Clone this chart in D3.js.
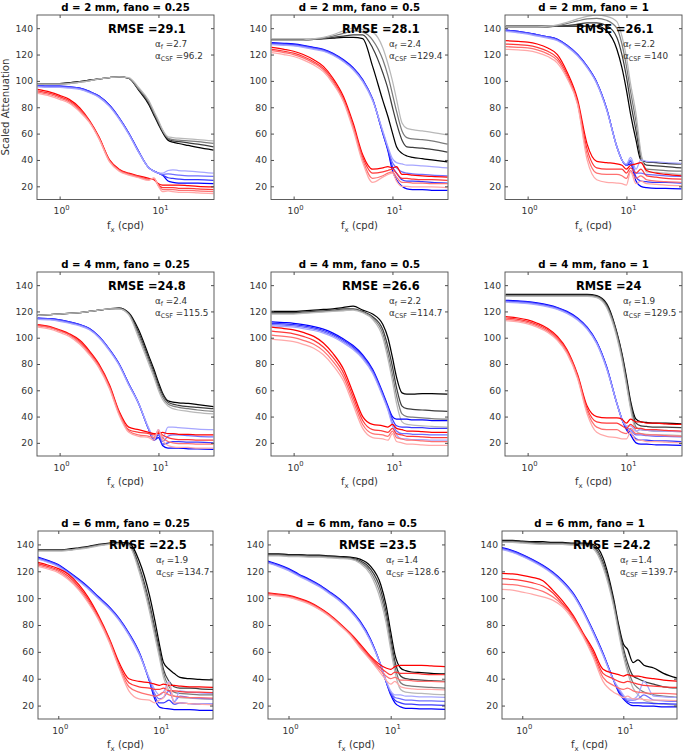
<!DOCTYPE html>
<html><head><meta charset="utf-8">
<script src="https://cdn.jsdelivr.net/npm/d3@7"></script>
<style>body{margin:0;background:#fff}svg{display:block}</style>
</head><body>
<svg id="c" width="688" height="756"></svg>
<script>
// ---------- data ----------
const fx = [0.6,0.8,1,1.25,1.6,2,2.5,3.2,4,5,6.3,8,9,10,11,12.5,14,16,20,25,36];
const dVals = [2,4,6];
const fanoVals = [0.25,0.5,1];
const rmse = ["29.1","28.1","26.1","24.8","26.6","24","22.5","23.5","24.2"];
const alphaF = ["2.7","2.4","2.2","2.4","2.2","1.9","1.9","1.4","1.4"];
const alphaCSF = ["96.2","129.4","140","115.5","114.7","129.5","134.7","128.6","139.7"];
const yTicks = [20,40,60,80,100,120,140];
const xTicks = [1,10];

// each family: curves from darkest to lightest shade
const p1Black = [
 [98,98,98,98.5,99.5,100.5,101.5,102.5,103,102,93,82,74,67,61,55,53.5,52.5,51,49.5,47.5],
 [98,98,98,98.5,99.5,100.5,101.5,102.5,103,102,93.5,83,75,68,62,56,54.5,54,53,52,50],
 [97.5,97.5,97.5,98,99,100,101.5,102.5,103,102,94,84,76,69,62.5,56.5,55.5,55,54.5,54,52.5],
 [97.5,97.5,97.5,98,99,100,101.5,102.5,103,102.5,95,85,77,70,63,57.5,57,56.5,56,55.5,54.5]];
const p1Blue = [
 [96.5,96,96,95.5,94.5,92,88.5,81.5,72,60.5,46.5,34,31.5,30,28.5,24,23,22.5,22.5,22.5,22],
 [96.5,96,96,95.5,94.5,92,88.5,81.5,72,60.5,46.5,34,31.5,30,28.5,26.5,26,25.5,25,25,24.5],
 [96,95.5,95.5,95,94,91.5,88,81,71.5,60,46,34,31.5,30,29,29.5,29,28.5,28,28,27.5],
 [95.5,95,95,94.5,93.5,91,87.5,80.5,71,59.5,46,34,31.5,30,30,32,32.5,32,31.5,31,30]];
const p1Red = [
 [93.5,91.5,89,86,79.5,70,57.5,40,33,30,28,26,25,22,21,21,21,21,20.5,20,19.5],
 [92.5,90.5,88,85,78.5,69.5,57,39.5,32.5,29.5,27.5,25.5,25.5,21,19,19,19,18.5,18.5,18,17.5],
 [91.5,89.5,87,84,77.5,69,56.5,39,32,29,27,25,26,20.5,17.5,17.5,17.5,17,17,16.5,16],
 [90.5,88.5,86,83,76.5,68.5,56,38.5,31.5,28.5,26.5,24.5,26.5,20,16,16.5,16,15.5,15.5,15,14.5]];

const p2Black = [
 [131.5,131.5,131.5,131.5,131.5,132,132.5,133,133,132,111,85,73,60.5,50,45,43,42,41,40,38.5],
 [131,131,131,131,131.5,132,133,134,135,135,125,106,94,80,68,55,50,49.5,49,48,46],
 [131,131,131,131,131.5,132.5,134,136,138,137,131,116,104,90,77,62,57,56,55.5,54.5,52],
 [131,131,131,131,132,133,135,138,140,139,137,125,113,100,86,68,64,63,62,61,59]];
const p2Blue = [
 [129,128.5,128,127,125.5,124,121,116,110,101,86,60,47,32,25,20,18,17.5,17.5,17,17],
 [128.5,128,127.5,126.5,125,123.5,120.5,115.5,109.5,100.5,86,60,48,35,30,25,24,24,23.5,23,22.5],
 [128,127.5,127,126,124.5,123,120,115,109,100,86,61,49,38,34,31,30,29.5,29,28.5,28],
 [127.5,127,126.5,125.5,124,122.5,119.5,114.5,108.5,99.5,85,62,50,41,38,37,36,36,35.5,35,34]];
const p2Red = [
 [125.5,124,122.5,120,116,111,102,88,68,44,33,34,35,34,35,29,29,28.5,28,27.5,27],
 [124,122.5,121,118.5,114.5,109.5,100.5,86,66,42,30,31,32,33,30,26,26,25.5,25,25,24.5],
 [123,121.5,120,117.5,113.5,108.5,99.5,85,65,40,26,28,30,31,27,23,23,22.5,22.5,22,22],
 [121.5,120,118.5,116,112,107,98,84,63,38,23,27,29,30,24,20,20,19.5,19.5,19.5,19]];

const p3Black = [
 [141.5,141.5,141.5,141.5,141.5,141.5,141.5,141.5,141.5,141.5,138,124,110,93,75,55,40,38.5,38,37.5,37],
 [141,141,141,141,141,141.5,142,143,144,144,142,133,120,103,84,62,42,36,35.5,35,34],
 [141,141,141,141,141,142,143.5,145.5,147,147.5,146,140,128,111,92,69,44,33,32.5,32,31.5],
 [141,141,141,141,141.5,142.5,144.5,147,149,150,149,145,134,118,98,75,46,31,30.5,30,29]];
const p3Blue = [
 [138.5,137.5,136.5,135,133.5,131.5,127,120,111,99,79,50,40,36,37,24,20,19,18.5,18.5,18],
 [138.5,137.5,136.5,135,133.5,131.5,127,120,111,99,79,50,40,36,39,27,24,23.5,23,23,22.5],
 [138,137,136,134.5,133,131,126.5,119.5,110.5,98.5,78.5,50,40,36,40,30,30,29,28.5,28,27.5],
 [137.5,136.5,135.5,134,132.5,130.5,126,119,110,98,78,50,40,37,42,33,40,39,38.5,38,37.5]];
const p3Red = [
 [130.5,130,129.5,128,125,120,107,86,52,39,38,37,36,33,36,37,38,32,30,29,28],
 [128,127.5,127,125.5,122.5,117.5,105,84,48,34,33,33,33,30,34,30,33,28,27,26,25.5],
 [126,125.5,125,123.5,120.5,115.5,103.5,83,44,30,29,29,28,26,32,26,28,25,24,23.5,23],
 [124,123.5,123,121.5,118.5,113.5,102,82,40,25,23,22.5,22,21,31,22,24,22,21.5,21,20.5]];

const p4Black = [
 [117,117.5,118,118.5,119,120,121,122,122.5,119,106,86,76,66,58,52,51,50.5,50,49,47.5],
 [117,117.5,118,118.5,119,120,121,122,122.5,118.5,104,84,74,64,57,51,49.5,48.5,47.5,47,46],
 [117,117.5,118,118.5,119,120,121,122,122,118,102,82,72,62,55,49.5,48,47,46,45,44],
 [117,117.5,118,118.5,119,120,121,122,122,117.5,100,80,70,60,53,48,46,45,44,43,42]];
const p4Blue = [
 [115,114.5,113.5,112,110,107,101,91,80,65,50,30,22,24,18,16,16,16,15.5,15.5,15],
 [115,114.5,113.5,112,110,107,101,91,80,65,50,30,22,26,19,20,21,21,20.5,20.5,20],
 [114.5,114,113,111.5,109.5,106.5,100.5,90.5,79.5,64.5,50,30,23,28,21,25,26,26,25.5,25,24.5],
 [114,113.5,112.5,111,109,106,100,90,79,64,50,31,24,30,23,32,32,31.5,31,30.5,30]];
const p4Red = [
 [110,108.5,106,103,98,90,80,64,44,32,30,28,27,27,28,27,27,26.5,26.5,26,26],
 [109.5,108,105.5,102.5,97,89,79,63,43,30,28,27,26,28,26,24,23,22.5,22.5,22,22],
 [109,107.5,105,102,96,88,78,62,42,29,26,25,24,29,24,21,20,19.5,19.5,19,19],
 [108,106.5,104,101,95,87,77,61,41,28,25,24,22,30,22,18,17,16.5,16.5,16,16]];

const p5Black = [
 [120,120,120,120.5,121,121.5,122,123,124,121,118,110,100,85,70,58,57,57,57.5,57.5,57],
 [119,119,119,119.5,120,120.5,121,122,122,120,116,106,93,78,62,48,46,45.5,45,44.5,44],
 [118.5,118.5,118.5,119,119.5,120,120.5,121,121.5,119.5,115,103,88,72,56,42,40,39.5,39,38.5,38],
 [118,118,118,118.5,119,119.5,120,120.5,121,119,114,100,84,67,50,36,34,33.5,33,32.5,32]];
const p5Blue = [
 [112,111.5,111,110,108.5,106.5,103.5,99,94,87,76,58,48,40,38,38,38,37.5,37.5,37,37],
 [111,110.5,110,109,107.5,105.5,102.5,98,93,86,75,57,47,38,33,32,32,31.5,31.5,31,31],
 [110,109.5,109,108,106.5,104.5,101.5,97,92,85,74,56,46,35,29,27,27,26.5,26.5,26,26],
 [109,108.5,108,107,105.5,103.5,100.5,96,91,84,73,55,45,33,26,23,23,22.5,22.5,22,22]];
const p5Red = [
 [108,107,106,104,101,96,88,76,58,40,34,33,32,34,31,30,29,29,28.5,28,28],
 [105,104,103,101,98,93,85,73,55,37,30,29,28,31,27,26,25,25,24.5,24,24],
 [102,101,100,98,95,90,82,70,52,34,27,26,25,29,24,23,22,22,21.5,21,21],
 [99,98,97,95,92,87,79,67,49,31,24,23,22,27,21,20,19,19,18.5,18,18]];

const p6Black = [
 [133,133,133,133,133,133,133,133,133,132,126,104,88,70,52,38,36,35.5,35,35,34.5],
 [132.5,132.5,132.5,132.5,132.5,132.5,132.5,132.5,132.5,131.5,125,103,87,68,50,35,33,32.5,32,32,31.5],
 [132,132,132,132,132,132,132,132,132,131,124,102,85,66,48,32,30,29.5,29,29,28.5],
 [131.5,131.5,131.5,131.5,131.5,131.5,131.5,131.5,131.5,130.5,123,100,83,64,46,29,27,26.5,26,26,25.5]];
const p6Blue = [
 [128.5,128,127.5,126.5,125,123,120,115,108,97,78,50,38,30,26,20,19,19,18.5,18.5,18],
 [128,127.5,127,126,124.5,122.5,119.5,114.5,107.5,96.5,77.5,50,38,31,28,23,22,22,21.5,21.5,21],
 [127.5,127,126.5,125.5,124,122,119,114,107,96,77,50,38,32,30,26,26,25.5,25,25,24.5],
 [127,126.5,126,125,123.5,121.5,118.5,113.5,106.5,95.5,76.5,50,38,33,33,29,30,29.5,29,29,28.5]];
const p6Red = [
 [116,115,113.5,111,107,101,91,72,48,40,39,39,38,35,38,36,36,35,35,34.5,34],
 [115,114,112.5,110,106,100,90,71,46,36,35,35,33,31,34,31,31,30,30,29.5,29],
 [114,113,111.5,109,105,99,89,70,44,32,30,30,28,27,31,27,27,26,26,25.5,25],
 [113,112,110.5,108,104,98,88,69,42,28,25,24,23,23,28,22,22,21,21,20.5,20]];

const p7Black = [
 [136,136,136,136.5,137.5,138.5,140,141,141.5,141,128,102,84,66,52,47,44,41,40,39.5,39],
 [135.5,135.5,135.5,136,137,138,139.5,140.5,141,140,124,96,78,62,47,38,34,33,33,32.5,32],
 [135.5,135.5,135.5,136,137,138,139.5,140.5,141,139.5,122,93,75,59,44,34,30,29,28.5,28,28],
 [135,135,135,135.5,136.5,137.5,139,140,140.5,139,120,90,72,56,41,31,27,26,25.5,25,24.5]];
const p7Blue = [
 [131,128,125,120,114,108,101,93.5,85,74,60,38,25,19,18,17.5,17,17,17,16.5,16.5],
 [130.5,127.5,124.5,119.5,113.5,107.5,100.5,93,84.5,73.5,59.5,38,27,22,22,24,21,22,21.5,21,21],
 [130,127,124,119,113,107,100,92.5,84,73,59,39,29,25,26,31,23,27,26,25.5,25],
 [129.5,126.5,123.5,118.5,112.5,106.5,99.5,92,83.5,72.5,58.5,40,32,28,30,38,22,31,30,29.5,29]];
const p7Red = [
 [127,124.5,122,118,110,100,87,70,52,40,38,37,36,35,36,35,35,34.5,34,34,33.5],
 [126,123.5,121,116.5,108.5,98.5,86,69,50,37,34,33,32,32,33,31,31,30.5,30,30,29.5],
 [125,122.5,120,115,107,97,85,68,49,34,30,28,27,28,30,28,27,26.5,26,26,25.5],
 [124,121.5,119,114,106,96,84,67,48,31,25,24,22,24,26,37,22,22,21.5,21,20.5]];

const p8Black = [
 [133,133,132.5,132.5,132,132,131.5,131,130.5,129,124,110,95,75,58,48,46,45,44.5,44,43.5],
 [132.5,132.5,132,132,131.5,131.5,131,130.5,130,128,122,106,90,70,53,42,40,39.5,39,38.5,38],
 [132,132,131.5,131.5,131,131,130.5,130,129.5,127,120,102,86,66,49,37,35,34.5,34,33.5,33],
 [131.5,131.5,131,131,130.5,130.5,130,129.5,129,126,118,98,82,62,45,32,30,29.5,29,28.5,28]];
const p8Blue = [
 [128,125,122,118,114,110,105,99,92,83,70,50,38,28,22,19,18,18,17.5,17.5,17],
 [127.5,124.5,121.5,117.5,113.5,109.5,104.5,98.5,91.5,82.5,69.5,50,38,29,24,22,21,21,20.5,20.5,20],
 [127,124,121,117,113,109,104,98,91,82,69,50,38,30,26,25,24,24,23.5,23.5,23],
 [126.5,123.5,120.5,116.5,112.5,108.5,103.5,97.5,90.5,81.5,68.5,50,39,31,28,28,27,27,26.5,26.5,26]];
const p8Red = [
 [104,103,102,100,97,93,88,81,74,66,57,50,48,47,49,50,50,50,50,49.5,49],
 [103.5,102.5,101.5,99.5,96.5,92.5,87.5,80.5,73.5,65,56,48,45,43,45,44,44,44,43.5,43,43],
 [103,102,101,99,96,92,87,80,73,64,55,46,42,40,41,39,39,38.5,38,38,37.5],
 [102.5,101.5,100.5,98.5,95.5,91.5,86.5,79.5,72.5,63,54,44,39,36,38,34,33,32.5,32,32,31.5]];

const p9Black = [
 [143,143,142.5,142,142,141.5,141.5,141,141,140,130,100,80,66,62,52,54,50,48,44,40],
 [142.5,142.5,142,141.5,141,141,141,140.5,140.5,139,127,98,78,63,52,42,40,38,36,34,33],
 [142,142,141.5,141,140.5,140.5,140.5,140,140,138,125,96,76,60,48,37,33,30,28,27,26],
 [141.5,141.5,141,140.5,140,140,140,139.5,139.5,137,123,94,74,57,45,33,28,24,22,21,20]];
const p9Blue = [
 [138,135.5,132.5,129,124.5,119.5,113,103.5,91,76,59,39,30,25,22,20,20,19.5,19.5,19,19],
 [137.5,135,132,128.5,124,119,112.5,103,90.5,75.5,58.5,39,31,26,23,22,22,22,21.5,21.5,21],
 [137,134.5,131.5,128,123.5,118.5,112,102.5,90,75,58,39,32,27,24,24,25,28,24,23.5,23],
 [136.5,134,131,127.5,123,118,111.5,102,89.5,74.5,57.5,39,33,28,25,25,28,38,27,26.5,26]];
const p9Red = [
 [118.5,118,117,115.5,113,106,98,87,74,62,47,44,43,42,43,42,42,41,40,39,38],
 [114.5,114,113,111.5,109,104,96,86,73,60,44,40,38,37,38,37,36,35,34.5,34,33.5],
 [110.5,110,109,107.5,105,101,95,85,72.5,58,41,35,33,32,33,31,30,29.5,29,29,28.5],
 [106.5,106,104.5,103,101,98.5,93.5,83.5,71.5,56.5,38,30,28,26,27,25,25,24.5,24,24,23.5]];

const panelCurves = [
 [p1Black,p1Blue,p1Red],[p2Black,p2Blue,p2Red],[p3Black,p3Blue,p3Red],
 [p4Black,p4Blue,p4Red],[p5Black,p5Blue,p5Red],[p6Black,p6Blue,p6Red],
 [p7Black,p7Blue,p7Red],[p8Black,p8Blue,p8Red],[p9Black,p9Blue,p9Red]];

// ---------- layout ----------
const frames = [
 [37,15,214,199.5],[271,15,448,199.5],[505,15,682,199.5],
 [37,272,214,456],[271,272,448,456],[505,272,682,456],
 [38,531,213,719],[268,531,445,719],[502,531,677,719]];
const xDomains = [[0.59,36.5],[0.59,36.5],[0.63,34]];
const famShades = [["#000000","#b8b8b8"],["#0000ff","#a6a6ff"],["#ff0000","#ffa8a8"]];
const FONT = "DejaVu Sans, Liberation Sans, sans-serif";

const svg = d3.select("#c");
const defs = svg.append("defs");

frames.forEach((fr, i) => {
  const [l, t, r, b] = fr;
  const row = Math.floor(i / 3), col = i % 3;
  const x = d3.scaleLog().domain(xDomains[row]).range([l, r]);
  const y = d3.scaleLinear().domain([10, 150]).range([b, t]);
  const g = svg.append("g");

  defs.append("clipPath").attr("id", "cp" + i)
    .append("rect").attr("x", l).attr("y", t).attr("width", r - l).attr("height", b - t);

  const line = d3.line().x((d, k) => x(fx[k])).y(d => y(d)).curve(d3.curveMonotoneX);
  const lg = g.append("g").attr("clip-path", `url(#cp${i})`);
  panelCurves[i].forEach((fam, fi) => {
    const shade = d3.interpolateRgb(famShades[fi][0], famShades[fi][1]);
    const n = fam.length;
    for (let k = 0; k < n; k++) {
      lg.append("path").attr("d", line(fam[k])).attr("fill", "none")
        .attr("stroke", shade(k / (n - 1))).attr("stroke-width", 1.25)
        .attr("stroke-linejoin", "round");
    }
  });

  // box
  g.append("rect").attr("x", l).attr("y", t).attr("width", r - l).attr("height", b - t)
    .attr("fill", "none").attr("stroke", "#4d4d4d").attr("stroke-width", 0.9);

  // y axis
  const ya = g.append("g").attr("transform", `translate(${l},0)`)
    .call(d3.axisLeft(y).tickValues(yTicks).tickSize(-3).tickPadding(4));
  ya.select(".domain").remove();
  ya.selectAll("line").attr("stroke", "#4d4d4d");
  ya.selectAll("text").attr("font-family", FONT).attr("font-size", 9.2).attr("fill", "#333");
  const yr = g.append("g").attr("transform", `translate(${r},0)`)
    .call(d3.axisRight(y).tickValues(yTicks).tickSize(-3).tickFormat(""));
  yr.select(".domain").remove();
  yr.selectAll("line").attr("stroke", "#4d4d4d");

  // x axis
  const xa = g.append("g").attr("transform", `translate(0,${b})`)
    .call(d3.axisBottom(x).tickValues(xTicks).tickSize(-3).tickFormat(""));
  xa.select(".domain").remove();
  xa.selectAll("line").attr("stroke", "#4d4d4d");
  const xt = g.append("g").attr("transform", `translate(0,${t})`)
    .call(d3.axisTop(x).tickValues(xTicks).tickSize(-3).tickFormat(""));
  xt.select(".domain").remove();
  xt.selectAll("line").attr("stroke", "#4d4d4d");
  xTicks.forEach(v => {
    const tx = g.append("text").attr("x", x(v) + 2).attr("y", b + 14.5)
      .attr("text-anchor", "middle").attr("font-family", FONT).attr("font-size", 9.2).attr("fill", "#333");
    tx.append("tspan").text("10");
    tx.append("tspan").attr("dy", -4.5).attr("font-size", 6.8).text(String(Math.round(Math.log10(v))));
  });

  // x label
  const xl = g.append("text").attr("x", (l + r) / 2).attr("y", b + 29)
    .attr("text-anchor", "middle").attr("font-family", FONT).attr("font-size", 10).attr("fill", "#333");
  xl.append("tspan").text("f");
  xl.append("tspan").attr("dy", 3).attr("font-size", 7).text("x");
  xl.append("tspan").attr("dy", -3).text(" (cpd)");

  // title
  g.append("text").attr("x", (l + r) / 2).attr("y", t - 4.5).attr("text-anchor", "middle")
    .attr("font-family", FONT).attr("font-size", 10.2).attr("font-weight", "bold").attr("fill", "#000")
    .text(`d = ${dVals[row]} mm, fano = ${fanoVals[col]}`);

  // RMSE
  g.append("text").attr("x", l + 71).attr("y", t + 18)
    .attr("font-family", FONT).attr("font-size", 11.4).attr("font-weight", "bold").attr("fill", "#000")
    .text(`RMSE =${rmse[i]}`);

  // alpha annotations (two stacked lines)
  const a1 = g.append("text").attr("x", l + 118).attr("y", t + 32)
    .attr("font-family", FONT).attr("font-size", 8.8).attr("fill", "#333");
  a1.append("tspan").text("\u03B1");
  a1.append("tspan").attr("dy", 1.5).attr("font-size", 6.4).text("f");
  a1.append("tspan").attr("dy", -1.5).text(` =${alphaF[i]}`);
  const a2 = g.append("text").attr("x", l + 118).attr("y", t + 44)
    .attr("font-family", FONT).attr("font-size", 8.8).attr("fill", "#333");
  a2.append("tspan").text("\u03B1");
  a2.append("tspan").attr("dy", 1.5).attr("font-size", 6.4).text("CSF");
  a2.append("tspan").attr("dy", -1.5).text(` =${alphaCSF[i]}`);
});

// y label
svg.append("text").attr("transform", "translate(9,107) rotate(-90)").attr("text-anchor", "middle")
  .attr("font-family", FONT).attr("font-size", 10.2).attr("fill", "#333").text("Scaled Attenuation");
</script>
</body></html>
